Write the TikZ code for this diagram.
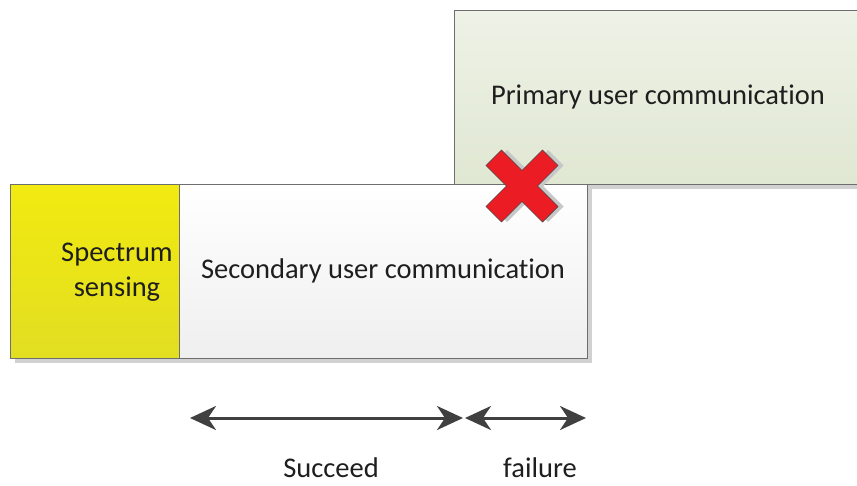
\documentclass[tikz,border=0pt]{standalone}
\usepackage{fontspec}
\setmainfont{Carlito}[Ligatures=NoCommon]
\usetikzlibrary{arrows.meta,shadows}
\definecolor{boxline}{HTML}{6E6E6E}
\definecolor{pritop}{HTML}{EEF2E7}
\definecolor{pribot}{HTML}{E0E7D2}
\definecolor{yeltop}{HTML}{F2EA10}
\definecolor{yelbot}{HTML}{E2DE22}
\definecolor{sectop}{HTML}{FFFFFF}
\definecolor{secbot}{HTML}{EFEFEF}
\definecolor{crossred}{HTML}{EC1C24}
\definecolor{arrowgray}{HTML}{404040}
\definecolor{textgray}{HTML}{1E1E1E}

\begin{document}
\begin{tikzpicture}[x=1pt,y=-1pt]
			\tikzstyle{slot} = [draw=boxline, line width=0.8pt, inner sep=0pt, minimum height=174pt,
				text=textgray, font=\fontsize{28.5}{35}\selectfont, align=center,
				drop shadow={shadow xshift=5pt, shadow yshift=-5pt, fill=black!18, opacity=1}]
			\tikzstyle{label} = [text=textgray, font=\fontsize{28.5}{35}\selectfont]
			\tikzset{span/.style = {{Stealth[length=26pt,width=24pt,inset=8pt]}-{Stealth[length=26pt,width=24pt,inset=8pt]}, line width=3pt, draw=arrowgray, fill=arrowgray}}

			\useasboundingbox (0,0) rectangle (857,485);
			\begin{scope}
			\clip (0,0) rectangle (857,485);

			\node[slot, minimum width=408pt, top color=pritop, bottom color=pribot] (primary) at (658,97) {};
			\node[label] at (658,97) {Primary user communication};

			\node[slot, minimum width=169pt, top color=yeltop, bottom color=yelbot] (sensing) at (94.5,271) {};
			\node[slot, minimum width=408pt, top color=sectop, bottom color=secbot] (secondary) at (383,271) {};
			\node[label, align=center] (sensetext) at (117,272) {Spectrum\\sensing};
			\node[label] (sectext) at (383,271) {Secondary user communication};

			% red cross on the overlap
			\begin{scope}[shift={(522,186)}, rotate=45]
				\fill[black!22, shift={(4pt,-4pt)}] (-40,-11) -- (-11,-11) -- (-11,-40) -- (11,-40) -- (11,-11) -- (40,-11)
					-- (40,11) -- (11,11) -- (11,40) -- (-11,40) -- (-11,11) -- (-40,11) -- cycle;
				\filldraw[fill=crossred, draw=black!70, line width=0.6pt] (-40,-11) -- (-11,-11) -- (-11,-40) -- (11,-40) -- (11,-11) -- (40,-11)
					-- (40,11) -- (11,11) -- (11,40) -- (-11,40) -- (-11,11) -- (-40,11) -- cycle;
			\end{scope}
			\node[coordinate] (cross) at (522,186) {};

			% durations
			\coordinate (s0) at (190,418);
			\coordinate (s1) at (463,418);
			\coordinate (f0) at (465,418);
			\coordinate (f1) at (586,418);
			\draw[span] (s0) to (s1);
			\draw[span] (f0) to (f1);
			\node[label] (succeed) at (331,468) {Succeed};
			\node[label] (failure) at (540,468) {failure};
			\end{scope}
\end{tikzpicture}
\end{document}
